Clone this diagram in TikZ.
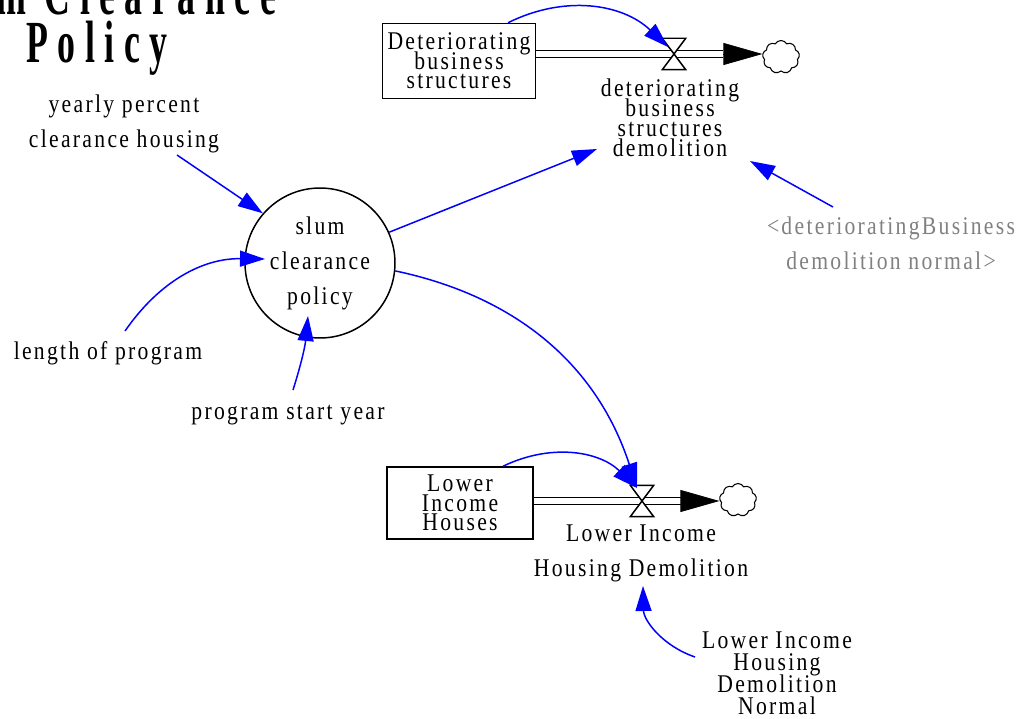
\documentclass[tikz,border=0pt]{standalone}
\usepackage{fontspec}
\usepackage{tikz}
\usetikzlibrary{arrows.meta,calc,shapes.symbols}
\setmainfont{Liberation Serif}
\newfontfamily\vfont[FakeStretch=0.85,LetterSpace=9]{Liberation Serif}
\newfontfamily\tfont[FakeStretch=0.6,LetterSpace=16]{Liberation Serif}
\newcommand\tightlines{\lineskiplimit=-50pt\relax}
\definecolor{linkblue}{HTML}{0000FF}
\definecolor{shadowtxt}{HTML}{808080}

\begin{document}
\begin{tikzpicture}[x=0.02cm,y=-0.02cm,>={Triangle[length=0.5cm,width=0.32cm]},line width=0.85pt]
    \tikzstyle{lbl}=[font=\vfont\fontsize{14.5}{19.9}\selectfont,align=center,inner sep=0pt]
    \tikzstyle{tight}=[lbl,font=\vfont\fontsize{14.5}{11}\selectfont\tightlines]
    \tikzstyle{stock}=[tight,draw,minimum width=3.06cm,minimum height=1.5cm]
    \tikzstyle{aux}=[lbl,draw,circle,minimum size=3cm]
    \tikzstyle{valve}=[minimum width=0.44cm,minimum height=0.6cm,inner sep=0pt]
    \tikzstyle{sink}=[cloud,cloud puffs=9,cloud puff arc=120,aspect=1.1,draw,line width=0.6pt,minimum width=0.74cm,minimum height=0.66cm,inner sep=0pt]
    \tikzstyle{pipe}=[double,double distance=0.12cm,line width=0.8pt]
    \tikzstyle{head}=[-{Triangle[length=0.78cm,width=0.44cm]},line width=0.4pt]
    \tikzstyle{link}=[->,color=linkblue,line width=0.85pt]
    \useasboundingbox (0,0) rectangle (1025,719);
    \clip (0,0) rectangle (1025,719);
    \node[font=\tfont\bfseries\fontsize{34}{27.3}\selectfont,align=center,inner sep=0pt] (ttl) at (97,24) {Slum Clearance\\Policy};
    \node[lbl] (yc) at (124,124) {yearly percent\\clearance housing};
    \node[aux] (sc) at (320,263) {slum\\clearance\\policy};
    \node[lbl] (lp) at (108,353) {length of program};
    \node[lbl] (ps) at (288,415) {program start year};
    \node[stock] (dbs) at (459,61) {Deteriorating\\business\\structures};
    \node[valve] (v1) at (674,54) {};
    \coordinate (h1) at (723,54);
    \node[sink] (c1) at (781,57) {};
    \node[tight,font=\vfont\fontsize{14.5}{11.4}\selectfont\tightlines] (dbsd) at (670,118) {deteriorating\\business\\structures\\demolition};
    \node[lbl,text=shadowtxt] (dbn) at (891,243) {<deterioratingBusiness\\demolition normal>};
    \node[stock,minimum width=2.92cm,minimum height=1.44cm] (lih) at (460,503) {Lower\\Income\\Houses};
    \node[valve] (v2) at (642,501) {};
    \coordinate (h2) at (681,501);
    \node[sink] (c2) at (738,500) {};
    \node[lbl] (lihd) at (641,553) {Lower Income\\Housing Demolition};
    \node[tight,font=\vfont\fontsize{14.5}{12.5}\selectfont\tightlines] (lihdn) at (777,673) {Lower Income\\Housing\\Demolition\\Normal};
    \draw[pipe] (dbs.east |- v1) -- (h1);
    \draw[head] (h1) -- (h1 -| c1.west);
    \draw[pipe] (lih.east |- v2) -- (h2);
    \draw[head] (h2) -- (h2 -| c2.west);
    \filldraw[fill=white] (v1.north west) -- (v1.north east) -- (v1.south west) -- (v1.south east) -- cycle;
    \filldraw[fill=white] (v2.north west) -- (v2.north east) -- (v2.south west) -- (v2.south east) -- cycle;
    \draw[link] ($(yc)+(53,31)$) -- (sc.139);
    \draw[link] ($(lp)+(17,-22)$) to[bend left=28] ($(sc)+(-55,-4)$);
    \draw[link] ($(ps)+(5,-25)$) to[bend right=6] ($(sc)+(-12,53)$);
    \draw[link] (sc.24) -- ($(dbsd)+(-73,31)$);
    \draw[link] ($(dbn)+(-58,-36)$) -- ($(dbsd)+(80,43)$);
    \draw[link] (sc.-6) to[bend left=30] ($(v2)+(-5,-13)$);
    \draw[link] ($(dbs.north)+(49,0)$) to[bend left=35] ($(v1)+(-6,-7)$);
    \draw[link] ($(lih.north)+(43,0)$) to[bend left=35] ($(v2)+(-5,-13)$);
    \draw[link] ($(lihdn)+(-82,-16)$) to[bend left=35] ($(lihd)+(2,33)$);
  \end{tikzpicture}
\end{document}
